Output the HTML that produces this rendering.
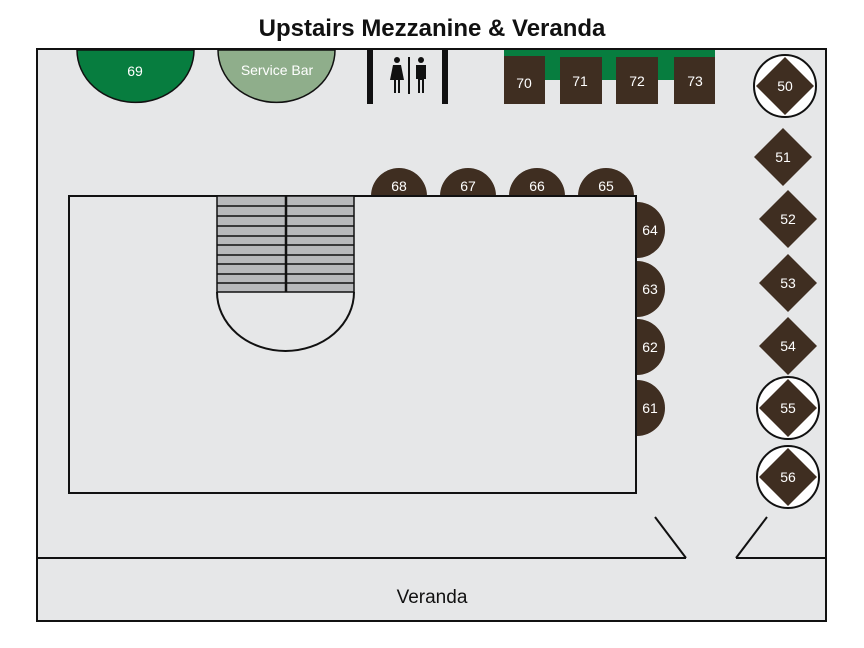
<!DOCTYPE html>
<html><head><style>body{margin:0;background:#fff}svg{display:block}text{font-family:"Liberation Sans",sans-serif}</style></head><body>
<svg width="864" height="648" viewBox="0 0 864 648" xmlns="http://www.w3.org/2000/svg">
<text x="432" y="36" text-anchor="middle" font-size="24" font-weight="bold" fill="#111">Upstairs Mezzanine &amp; Veranda</text>
<rect x="37" y="49" width="789" height="572" fill="#e6e7e8"/>
<path d="M37 558 V49 H826 V558" fill="none" stroke="#111" stroke-width="2"/>
<line x1="37" y1="558" x2="686" y2="558" stroke="#111" stroke-width="2"/>
<line x1="736" y1="558" x2="826" y2="558" stroke="#111" stroke-width="2"/>
<path d="M37 558 V621 H826 V558" fill="none" stroke="#111" stroke-width="2"/>
<text x="432" y="603" text-anchor="middle" font-size="19" fill="#111">Veranda</text>
<line x1="655" y1="517" x2="686" y2="558" stroke="#111" stroke-width="2"/>
<line x1="767" y1="517" x2="736" y2="558" stroke="#111" stroke-width="2"/>
<path d="M77 50 A58 52 0 0 0 194 50 Z" fill="#077d3f" stroke="#111" stroke-width="1.5"/>
<text x="135" y="76" text-anchor="middle" font-size="14" fill="#fff">69</text>
<path d="M218 50 A58 52 0 0 0 335 50 Z" fill="#8fae8b" stroke="#111" stroke-width="1.5"/>
<text x="277" y="75" text-anchor="middle" font-size="14" fill="#fff">Service Bar</text>
<rect x="367" y="49" width="6" height="55" fill="#111"/>
<rect x="442" y="49" width="6" height="55" fill="#111"/>
<g fill="#111">
<circle cx="397" cy="60" r="3"/><path d="M393 65 H401 L404 80 H400 V93 H398 V80 H396 V93 H394 V80 H390 Z"/>
<rect x="408" y="57" width="2" height="37"/>
<circle cx="421" cy="60" r="3"/><path d="M416 65 H426 V79 H424 V93 H422 V80 H420 V93 H418 V79 H416 Z"/>
</g>
<rect x="504" y="50" width="211" height="30" fill="#077d3f"/>
<g fill="#3f2e21"><rect x="504" y="56" width="41" height="48"/><rect x="560" y="57" width="42" height="47"/><rect x="616" y="57" width="42" height="47"/><rect x="674" y="57" width="41" height="47"/></g>
<g fill="#fff" font-size="14" text-anchor="middle"><text x="524" y="88">70</text><text x="580" y="86">71</text><text x="637" y="86">72</text><text x="695" y="86">73</text></g>
<g fill="#3f2e21">
<circle cx="785" cy="86" r="31" fill="#fff" stroke="#111" stroke-width="2"/><path d="M785 57 L814 86 L785 115 L756 86Z"/>
<path d="M783 128 L812 157 L783 186 L754 157Z"/>
<path d="M788 190 L817 219 L788 248 L759 219Z"/>
<path d="M788 254 L817 283 L788 312 L759 283Z"/>
<path d="M788 317 L817 346 L788 375 L759 346Z"/>
<circle cx="788" cy="408" r="31" fill="#fff" stroke="#111" stroke-width="2"/><path d="M788 379 L817 408 L788 437 L759 408Z"/>
<circle cx="788" cy="477" r="31" fill="#fff" stroke="#111" stroke-width="2"/><path d="M788 448 L817 477 L788 506 L759 477Z"/>
</g>
<g fill="#fff" font-size="14" text-anchor="middle"><text x="785" y="91">50</text><text x="783" y="162">51</text><text x="788" y="224">52</text><text x="788" y="288">53</text><text x="788" y="351">54</text><text x="788" y="413">55</text><text x="788" y="482">56</text></g>
<g fill="#3f2e21">
<path d="M371 196 A28 28 0 0 1 427 196Z"/><path d="M440 196 A28 28 0 0 1 496 196Z"/><path d="M509 196 A28 28 0 0 1 565 196Z"/><path d="M578 196 A28 28 0 0 1 634 196Z"/>
<path d="M637 202 A28 28 0 0 1 637 258Z"/><path d="M637 261 A28 28 0 0 1 637 317Z"/><path d="M637 319 A28 28 0 0 1 637 375Z"/><path d="M637 380 A28 28 0 0 1 637 436Z"/>
</g>
<g fill="#fff" font-size="14" text-anchor="middle"><text x="399" y="191">68</text><text x="468" y="191">67</text><text x="537" y="191">66</text><text x="606" y="191">65</text>
<text x="650" y="235">64</text><text x="650" y="294">63</text><text x="650" y="352">62</text><text x="650" y="413">61</text></g>
<rect x="69" y="196" width="567" height="297" fill="#e6e7e8" stroke="#111" stroke-width="2"/>
<rect x="217" y="196" width="137" height="96" fill="#b8b9bb" stroke="#111" stroke-width="1.5"/>
<g stroke="#111" stroke-width="1.5"><line x1="217" y1="206" x2="354" y2="206"/><line x1="217" y1="216" x2="354" y2="216"/><line x1="217" y1="226" x2="354" y2="226"/><line x1="217" y1="236" x2="354" y2="236"/><line x1="217" y1="245" x2="354" y2="245"/><line x1="217" y1="255" x2="354" y2="255"/><line x1="217" y1="264" x2="354" y2="264"/><line x1="217" y1="274" x2="354" y2="274"/><line x1="217" y1="283" x2="354" y2="283"/><line x1="286" y1="196" x2="286" y2="292" stroke-width="2.5"/></g>
<path d="M217 292 A68.5 59 0 0 0 354 292" fill="none" stroke="#111" stroke-width="2"/>
</svg>
</body></html>
